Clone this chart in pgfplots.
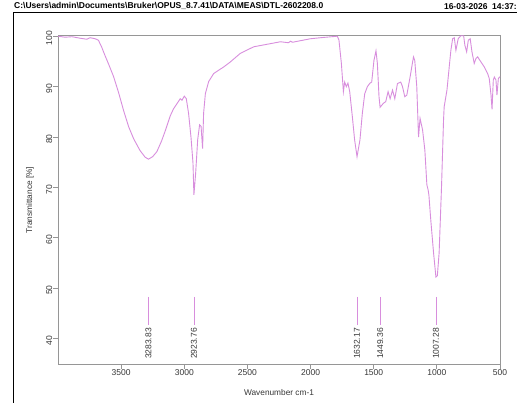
\documentclass[border=0pt]{standalone}
\usepackage{fontspec}
\setmainfont{Liberation Sans}
\usepackage{pgfplots}
\pgfplotsset{compat=1.18}
\definecolor{spec}{RGB}{216,142,221}
\definecolor{framec}{RGB}{150,150,150}
\definecolor{txt}{RGB}{55,55,55}
\pgfplotstableread{
wn T
4000 100.0
3944 99.8
3889 99.9
3825 99.6
3772 99.4
3746 99.7
3706 99.5
3680 99.2
3655 97.9
3630 96.3
3600 94.5
3560 92.0
3520 88.8
3480 85.2
3440 82.0
3400 79.6
3350 77.3
3310 76.0
3283.8 75.6
3250 76.1
3217 77.1
3180 79.2
3151 81.2
3111 84.2
3085 85.6
3050 86.9
3032 87.6
3018 87.3
3000 88.1
2984 87.6
2966 84.7
2947 80.0
2931 74.8
2923.8 68.5
2910 72.8
2894 79.4
2879 82.4
2867 82.1
2855 77.7
2847 84.7
2833 88.6
2807 91.0
2767 92.6
2688 93.9
2635 94.9
2556 96.6
2450 97.9
2344 98.4
2238 98.9
2175 98.7
2159 99.0
2143 98.8
2000 99.5
1921 99.7
1788 100.0
1775 99.2
1756 94.6
1740 89.0
1730 90.9
1717 90.0
1704 90.7
1690 89.0
1669 84.0
1651 79.4
1632 76.1
1609 79.4
1590 84.7
1571 88.6
1550 90.0
1529 90.7
1516 90.9
1498 95.2
1482 97.1
1471 94.6
1458 88.0
1449.4 85.9
1423 86.7
1405 87.0
1386 89.0
1370 87.6
1351 89.3
1333 87.6
1312 90.6
1286 90.9
1272 90.0
1254 88.0
1238 88.3
1212 91.9
1185 95.9
1175 95.2
1159 90.0
1145 80.0
1133 83.7
1113 81.4
1095 77.4
1079 70.5
1069 69.5
1063 68.5
1048 63.5
1026 57.0
1007.3 52.2
996 52.5
982 57.0
963 70.1
947 83.4
942 86.0
920 89.3
902 93.9
889 97.2
875 99.5
862 99.7
849 97.2
831 99.5
810 100.1
788 100.1
778 98.2
764 96.9
751 99.2
736 99.5
722 96.9
704 94.6
690 95.6
677 95.9
651 94.9
624 93.9
598 92.6
585 91.6
571 88.3
563 85.5
553 91.3
545 91.9
532 91.3
524 88.3
513 91.6
502 91.9
500 92.0
}\spectrum
\begin{document}
\begin{tikzpicture}
\useasboundingbox (0pt,0pt) rectangle (517pt,-403pt);
\fill[white] (0pt,0pt) rectangle (517pt,-403pt);
\draw[black, line width=1.6pt] (13.5pt,-403pt) -- (13.5pt,-12.5pt) -- (517pt,-12.5pt);
\node[anchor=west, font=\bfseries\fontsize{8.5}{10}\selectfont, inner sep=0] at (14pt,-6.2pt) {C:\textbackslash Users\textbackslash admin\textbackslash Documents\textbackslash Bruker\textbackslash OPUS\_8.7.41\textbackslash DATA\textbackslash MEAS\textbackslash DTL-2602208.0};
\node[anchor=east, font=\bfseries\fontsize{8.5}{10}\selectfont, inner sep=0] at (517pt,-6.2pt) {16-03-2026\ \ 14:37:};
\begin{axis}[
  at={(58pt,-364.3pt)}, anchor=south west, scale only axis,
  width=442pt, height=328.6pt,
  x dir=reverse, xmin=500, xmax=4000, ymin=34.9, ymax=100.1,
  xtick={500,1000,...,3500}, ytick={40,50,...,100},
  axis line style={framec, line width=0.9pt},
  tick style={framec, line width=0.8pt},
  major tick length=4.5pt, tick align=outside, tick pos=left,
  ticklabel style={font=\fontsize{8.5}{10}\selectfont, text=txt},
  /pgf/number format/assume math mode=true,
  /pgf/number format/1000 sep={},
  yticklabel style={rotate=90, anchor=south, inner sep=1pt, xshift=-2pt},
  xticklabel style={inner sep=1pt},
  label style={font=\fontsize{8.3}{10}\selectfont, text=txt},
  xlabel={Wavenumber cm-1}, ylabel={Transmittance [\%]},
  xlabel style={at={(axis description cs:0.5,-0.087)}, anchor=center},
  ylabel style={at={(axis description cs:-0.0633,0.5)}, anchor=center},
  clip=false,
]
\addplot[spec, line width=0.9pt] table[x=wn, y=T] {\spectrum};
\foreach \p/\l in {3283.83/3283.83, 2923.76/2923.76, 1632.17/1632.17, 1449.36/1449.36, 1007.28/1007.28} {
  \edef\temp{\noexpand\addplot[spec, line width=0.8pt] coordinates {(\p,48.3) (\p,42.7)};
  \noexpand\node[rotate=90, anchor=east, inner sep=0, font=\noexpand\fontsize{8.5}{10}\noexpand\selectfont, text=txt] at (axis cs:\p,42.1) {\l};}
  \temp
}
\end{axis}
\end{tikzpicture}
\end{document}
